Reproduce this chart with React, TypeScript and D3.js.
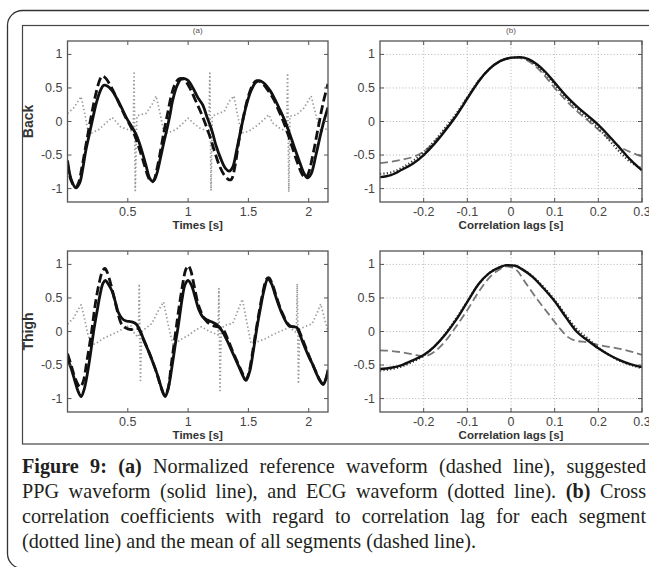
import React, { useMemo } from "react";
import * as d3 from "d3";

// ---------- axis ticks / labels ----------
const TIME_TICKS = [0.5, 1, 1.5, 2];
const LAG_TICKS = [-0.2, -0.1, 0, 0.1, 0.2, 0.3];
const Y_TICKS = [-1, -0.5, 0, 0.5, 1];
const ROW_LABELS = ["Back", "Thigh"];
const PANEL_TITLES = ["(a)", "(b)"];
const X_LABELS = ["Times [s]", "Correlation lags [s]"];

// ---------- (a) Back: [time s, amplitude] ----------
const backPpg: [number, number][] = [
  [0, -0.58], [0.03, -0.86], [0.07, -0.99], [0.1, -0.92], [0.127, -0.7], [0.15, -0.45], [0.18, -0.2],
  [0.21, 0.05], [0.24, 0.28], [0.27, 0.45], [0.3, 0.54], [0.33, 0.53], [0.37, 0.46], [0.41, 0.34],
  [0.45, 0.2], [0.49, 0.05], [0.53, -0.07], [0.57, -0.2], [0.61, -0.4], [0.65, -0.65], [0.68, -0.84],
  [0.7, -0.89], [0.72, -0.87], [0.745, -0.75], [0.77, -0.55], [0.8, -0.3], [0.82, -0.15], [0.85, 0.1],
  [0.87, 0.3], [0.91, 0.54], [0.94, 0.63], [0.97, 0.64], [1.0, 0.61], [1.04, 0.5], [1.08, 0.36],
  [1.12, 0.25], [1.16, 0.05], [1.2, -0.15], [1.23, -0.35], [1.27, -0.55], [1.31, -0.7], [1.34, -0.74],
  [1.37, -0.68], [1.4, -0.45], [1.44, -0.1], [1.48, 0.22], [1.52, 0.45], [1.56, 0.58], [1.59, 0.61],
  [1.63, 0.57], [1.68, 0.46], [1.72, 0.33], [1.76, 0.18], [1.8, 0.02], [1.84, -0.17], [1.88, -0.38],
  [1.92, -0.58], [1.96, -0.77], [1.99, -0.84], [2.02, -0.78], [2.06, -0.5], [2.1, -0.18], [2.13, 0.03],
  [2.16, 0.21],
];
const backRef: [number, number][] = [
  [0, -0.62], [0.03, -0.88], [0.065, -0.98], [0.09, -0.92], [0.12, -0.68], [0.15, -0.38], [0.18, -0.08],
  [0.21, 0.2], [0.24, 0.45], [0.27, 0.63], [0.29, 0.68], [0.32, 0.64], [0.36, 0.52], [0.4, 0.38],
  [0.44, 0.22], [0.48, 0.07], [0.52, -0.06], [0.56, -0.22], [0.6, -0.43], [0.64, -0.66], [0.67, -0.83],
  [0.695, -0.9], [0.715, -0.88], [0.74, -0.72], [0.77, -0.45], [0.8, -0.15], [0.83, 0.12], [0.86, 0.38],
  [0.89, 0.55], [0.92, 0.63], [0.95, 0.64], [0.98, 0.6], [1.02, 0.48], [1.06, 0.32], [1.1, 0.16],
  [1.14, -0.02], [1.18, -0.22], [1.22, -0.45], [1.26, -0.66], [1.3, -0.8], [1.34, -0.87], [1.36, -0.86],
  [1.39, -0.65], [1.42, -0.3], [1.46, 0.08], [1.5, 0.38], [1.54, 0.56], [1.57, 0.61], [1.61, 0.58],
  [1.66, 0.47], [1.71, 0.33], [1.75, 0.17], [1.79, 0.0], [1.83, -0.2], [1.87, -0.42], [1.91, -0.63],
  [1.95, -0.8], [1.975, -0.84], [2.0, -0.76], [2.04, -0.45], [2.08, -0.08], [2.12, 0.28], [2.16, 0.56],
];
const backEcg: [number, number][] = [
  [0, 0.12], [0.05, 0.2], [0.113, 0.37], [0.14, 0.15], [0.17, -0.15], [0.2, -0.17], [0.26, -0.12],
  [0.32, -0.02], [0.37, 0.06], [0.4, 0.0], [0.44, -0.08], [0.5, -0.12], [0.545, -0.15], [0.552, 0.72],
  [0.562, -1.03], [0.575, 0.08], [0.6, 0.1], [0.65, 0.12], [0.7, 0.25], [0.735, 0.38], [0.77, 0.1],
  [0.8, -0.17], [0.83, -0.17], [0.9, -0.12], [0.96, -0.02], [1.0, 0.05], [1.04, -0.02], [1.1, -0.1],
  [1.172, -0.15], [1.18, 0.72], [1.19, -1.03], [1.2, 0.08], [1.25, 0.12], [1.3, 0.15], [1.34, 0.3],
  [1.38, 0.38], [1.41, 0.1], [1.44, -0.17], [1.5, -0.15], [1.58, -0.05], [1.64, 0.05], [1.67, 0.1],
  [1.7, -0.02], [1.76, -0.1], [1.817, -0.15], [1.825, 0.72], [1.835, -1.05], [1.845, 0.08], [1.9, 0.1],
  [1.96, 0.2], [2.02, 0.38], [2.06, 0.1], [2.1, -0.15], [2.16, -0.1],
];

// ---------- (a) Thigh ----------
const thighPpg: [number, number][] = [
  [0, -0.4], [0.03, -0.55], [0.06, -0.73], [0.09, -0.9], [0.113, -0.97], [0.14, -0.85], [0.18, -0.46],
  [0.22, 0.04], [0.25, 0.35], [0.27, 0.55], [0.295, 0.72], [0.315, 0.76], [0.34, 0.7], [0.37, 0.6],
  [0.4, 0.42], [0.42, 0.29], [0.45, 0.2], [0.48, 0.16], [0.51, 0.15], [0.54, 0.14], [0.57, 0.11],
  [0.6, 0.02], [0.64, -0.16], [0.68, -0.33], [0.71, -0.47], [0.75, -0.67], [0.78, -0.85], [0.81, -0.97],
  [0.835, -0.85], [0.87, -0.48], [0.9, -0.12], [0.92, 0.1], [0.95, 0.48], [0.975, 0.7], [1.0, 0.76],
  [1.03, 0.68], [1.06, 0.5], [1.09, 0.32], [1.12, 0.22], [1.16, 0.17], [1.2, 0.14], [1.24, 0.1],
  [1.27, 0.04], [1.3, -0.05], [1.34, -0.2], [1.38, -0.36], [1.42, -0.52], [1.46, -0.68], [1.48, -0.73],
  [1.51, -0.6], [1.54, -0.3], [1.57, 0.05], [1.6, 0.35], [1.63, 0.62], [1.66, 0.78], [1.69, 0.72],
  [1.72, 0.56], [1.75, 0.4], [1.78, 0.26], [1.81, 0.15], [1.84, 0.08], [1.87, 0.07], [1.9, 0.06],
  [1.93, -0.06], [1.96, -0.2], [2.0, -0.37], [2.03, -0.48], [2.07, -0.65], [2.1, -0.75], [2.12, -0.79],
  [2.14, -0.72], [2.16, -0.57],
];
const thighRef: [number, number][] = [
  [0, -0.33], [0.03, -0.5], [0.06, -0.68], [0.09, -0.8], [0.105, -0.83], [0.13, -0.75], [0.16, -0.45],
  [0.2, 0.0], [0.23, 0.4], [0.26, 0.7], [0.29, 0.9], [0.31, 0.94], [0.33, 0.88], [0.36, 0.7],
  [0.39, 0.48], [0.42, 0.26], [0.445, 0.12], [0.47, 0.07], [0.5, 0.04], [0.53, 0.03], [0.56, 0.05],
  [0.59, 0.04], [0.62, -0.08], [0.66, -0.24], [0.7, -0.42], [0.74, -0.62], [0.77, -0.8], [0.805, -0.95],
  [0.83, -0.88], [0.86, -0.5], [0.89, -0.1], [0.92, 0.3], [0.95, 0.65], [0.98, 0.92], [1.0, 0.98],
  [1.02, 0.92], [1.05, 0.68], [1.08, 0.43], [1.11, 0.28], [1.14, 0.18], [1.18, 0.11], [1.22, 0.08],
  [1.26, 0.06], [1.29, 0.03], [1.33, -0.12], [1.37, -0.3], [1.41, -0.46], [1.45, -0.62], [1.475, -0.72],
  [1.5, -0.64], [1.53, -0.36], [1.56, -0.02], [1.59, 0.3], [1.62, 0.58], [1.65, 0.78], [1.67, 0.8],
  [1.7, 0.7], [1.73, 0.53], [1.76, 0.37], [1.79, 0.24], [1.82, 0.13], [1.85, 0.08], [1.88, 0.07],
  [1.91, 0.04], [1.94, -0.08], [1.98, -0.26], [2.02, -0.44], [2.06, -0.6], [2.09, -0.72], [2.115, -0.78],
  [2.14, -0.72], [2.16, -0.6],
];
const thighEcg: [number, number][] = [
  [0, 0.11], [0.05, 0.2], [0.09, 0.33], [0.113, 0.4], [0.14, 0.2], [0.17, -0.05], [0.2, -0.21],
  [0.25, -0.16], [0.3, -0.1], [0.36, -0.05], [0.42, 0.0], [0.47, 0.05], [0.51, 0.09], [0.53, 0.08],
  [0.56, -0.05], [0.588, -0.08], [0.595, 0.71], [0.605, -0.73], [0.615, 0.0], [0.65, 0.05], [0.7, 0.12],
  [0.75, 0.3], [0.796, 0.44], [0.83, 0.15], [0.86, -0.1], [0.88, -0.2], [0.94, -0.12], [1.0, -0.06],
  [1.06, 0.02], [1.11, 0.07], [1.18, 0.0], [1.248, -0.05], [1.255, 0.64], [1.265, -0.88], [1.275, 0.05],
  [1.32, 0.1], [1.37, 0.12], [1.41, 0.3], [1.45, 0.48], [1.48, 0.2], [1.52, -0.16], [1.58, -0.15],
  [1.65, -0.1], [1.7, -0.05], [1.76, 0.0], [1.84, 0.06], [1.898, -0.02], [1.905, 0.71], [1.915, -0.78],
  [1.925, 0.04], [1.98, 0.08], [2.03, 0.12], [2.07, 0.28], [2.1, 0.41], [2.13, 0.2], [2.16, 0.0],
];

// ---------- (b) Back: [lag s, coefficient] ----------
const backCorrPpg: [number, number][] = [
  [-0.3, -0.83], [-0.275, -0.8], [-0.25, -0.72], [-0.225, -0.63], [-0.2, -0.5], [-0.175, -0.33],
  [-0.15, -0.13], [-0.125, 0.09], [-0.1, 0.34], [-0.075, 0.59], [-0.05, 0.78], [-0.025, 0.9],
  [0, 0.95], [0.02, 0.96], [0.04, 0.93], [0.06, 0.85], [0.08, 0.73], [0.1, 0.58], [0.125, 0.39],
  [0.15, 0.23], [0.175, 0.09], [0.2, -0.05], [0.225, -0.22], [0.25, -0.4], [0.275, -0.58], [0.3, -0.73],
];
const backCorrSeg: [number, number][] = [
  [-0.3, -0.78], [-0.275, -0.76], [-0.25, -0.69], [-0.225, -0.59], [-0.2, -0.46], [-0.175, -0.29],
  [-0.15, -0.09], [-0.125, 0.12], [-0.1, 0.36], [-0.075, 0.6], [-0.05, 0.78], [-0.025, 0.9],
  [0, 0.95], [0.02, 0.955], [0.04, 0.92], [0.06, 0.83], [0.08, 0.7], [0.1, 0.55], [0.125, 0.36],
  [0.15, 0.2], [0.175, 0.05], [0.2, -0.1], [0.225, -0.28], [0.25, -0.46], [0.275, -0.61], [0.3, -0.7],
];
const backCorrMean: [number, number][] = [
  [-0.3, -0.62], [-0.275, -0.6], [-0.25, -0.57], [-0.225, -0.53], [-0.2, -0.45], [-0.175, -0.3],
  [-0.15, -0.11], [-0.125, 0.1], [-0.1, 0.36], [-0.075, 0.6], [-0.05, 0.78], [-0.025, 0.9],
  [0, 0.95], [0.015, 0.95], [0.04, 0.9], [0.06, 0.8], [0.08, 0.66], [0.1, 0.5], [0.125, 0.32],
  [0.15, 0.16], [0.175, 0.02], [0.2, -0.12], [0.225, -0.26], [0.25, -0.38], [0.275, -0.46], [0.3, -0.52],
];

// ---------- (b) Thigh ----------
const thighCorrPpg: [number, number][] = [
  [-0.3, -0.56], [-0.275, -0.54], [-0.25, -0.5], [-0.225, -0.43], [-0.2, -0.35], [-0.175, -0.22],
  [-0.15, -0.04], [-0.125, 0.18], [-0.1, 0.44], [-0.075, 0.7], [-0.05, 0.87], [-0.025, 0.96],
  [-0.01, 0.99], [0.01, 0.98], [0.025, 0.93], [0.05, 0.81], [0.075, 0.64], [0.1, 0.45], [0.125, 0.22],
  [0.15, 0.0], [0.175, -0.13], [0.2, -0.25], [0.225, -0.35], [0.25, -0.43], [0.275, -0.49], [0.3, -0.53],
];
const thighCorrSeg: [number, number][] = [
  [-0.3, -0.58], [-0.275, -0.56], [-0.25, -0.52], [-0.225, -0.45], [-0.2, -0.36], [-0.175, -0.22],
  [-0.15, -0.03], [-0.125, 0.2], [-0.1, 0.45], [-0.075, 0.7], [-0.05, 0.87], [-0.025, 0.96],
  [-0.01, 0.985], [0.01, 0.975], [0.025, 0.93], [0.05, 0.82], [0.075, 0.66], [0.1, 0.47], [0.125, 0.25],
  [0.15, 0.04], [0.175, -0.1], [0.2, -0.24], [0.225, -0.35], [0.25, -0.44], [0.275, -0.5], [0.3, -0.55],
];
const thighCorrMean: [number, number][] = [
  [-0.3, -0.28], [-0.275, -0.29], [-0.25, -0.31], [-0.225, -0.34], [-0.2, -0.37], [-0.175, -0.3],
  [-0.15, -0.14], [-0.125, 0.08], [-0.1, 0.32], [-0.075, 0.58], [-0.05, 0.8], [-0.025, 0.93],
  [-0.01, 0.97], [0.01, 0.93], [0.035, 0.71], [0.06, 0.48], [0.085, 0.27], [0.11, 0.06], [0.13, -0.08],
  [0.15, -0.14], [0.175, -0.16], [0.2, -0.2], [0.225, -0.23], [0.25, -0.26], [0.275, -0.3], [0.3, -0.35],
];

// ---------- caption ----------
const CAPTION_LINES: [string, boolean][][] = [
  [["Figure 9: (a)", true], ["Normalized reference waveform (dashed line), suggested", false]],
  [["PPG waveform (solid line), and ECG waveform (dotted line).", false], ["(b)", true], ["Cross", false]],
  [["correlation coefficients with regard to correlation lag for each segment", false]],
  [["(dotted line) and the mean of all segments (dashed line).", false]],
];

const AXFONT = "'Liberation Sans', Arial, sans-serif";
const CAPFONT = "'Liberation Serif', 'Times New Roman', serif";
const CAP_SIZE = 20.2;

type Series = { data: [number, number][]; stroke: string; width: number; dash?: string; curve: d3.CurveFactory };

function Panel(props: {
  x0: number; x1: number; y0: number; y1: number; xDomain: [number, number]; xTicks: number[];
  grid: boolean; series: Series[]; title?: string; xLabel: string; yLabel?: string; id: string;
}) {
  const { x0, x1, y0, y1, xDomain, xTicks, grid, series, title, xLabel, yLabel, id } = props;
  const xs = d3.scaleLinear().domain(xDomain).range([x0, x1]);
  const ys = d3.scaleLinear().domain([-1.2, 1.2]).range([y1, y0]);
  const tl = 4;
  const axisColor = "#555";
  return (
    <g>
      <defs>
        <clipPath id={id}>
          <rect x={x0} y={y0} width={x1 - x0} height={y1 - y0} />
        </clipPath>
      </defs>
      {grid && (
        <g stroke="#aaa" strokeWidth={0.9} strokeDasharray="1,2.2">
          {xTicks.map((t) => (
            <line key={"gx" + t} x1={xs(t)} x2={xs(t)} y1={y0} y2={y1} />
          ))}
          {Y_TICKS.map((t) => (
            <line key={"gy" + t} x1={x0} x2={x1} y1={ys(t)} y2={ys(t)} />
          ))}
        </g>
      )}
      <g clipPath={`url(#${id})`}>
        {series.map((s, i) => {
          const line = d3
            .line<[number, number]>()
            .x((d) => xs(d[0]))
            .y((d) => ys(d[1]))
            .curve(s.curve);
          return (
            <path
              key={i}
              d={line(s.data) || ""}
              fill="none"
              stroke={s.stroke}
              strokeWidth={s.width}
              strokeDasharray={s.dash}
              strokeLinejoin="round"
            />
          );
        })}
      </g>
      <rect x={x0} y={y0} width={x1 - x0} height={y1 - y0} fill="none" stroke={axisColor} strokeWidth={1.3} />
      <g stroke={axisColor} strokeWidth={1}>
        {xTicks.map((t) => (
          <g key={"tx" + t}>
            <line x1={xs(t)} x2={xs(t)} y1={y1} y2={y1 - tl} />
            <line x1={xs(t)} x2={xs(t)} y1={y0} y2={y0 + tl} />
          </g>
        ))}
        {Y_TICKS.map((t) => (
          <g key={"ty" + t}>
            <line x1={x0} x2={x0 + tl} y1={ys(t)} y2={ys(t)} />
            <line x1={x1} x2={x1 - tl} y1={ys(t)} y2={ys(t)} />
          </g>
        ))}
      </g>
      <g fontFamily={AXFONT} fontSize={12.5} fill="#444">
        {xTicks.map((t) => (
          <text key={"lx" + t} x={xs(t)} y={y1 + 14} textAnchor="middle">
            {String(t)}
          </text>
        ))}
        {Y_TICKS.map((t) => (
          <text key={"ly" + t} x={x0 - 5} y={ys(t)} textAnchor="end" dominantBaseline="central">
            {String(t)}
          </text>
        ))}
      </g>
      {title && (
        <text x={(x0 + x1) / 2} y={y0 - 8} textAnchor="middle" fontFamily={AXFONT} fontSize={8} fill="#555">
          {title}
        </text>
      )}
      <text x={(x0 + x1) / 2} y={y1 + 27} textAnchor="middle" fontFamily={AXFONT} fontSize={11.5} fontWeight="bold" fill="#333">
        {xLabel}
      </text>
      {yLabel && (
        <text
          transform={`translate(33,${(y0 + y1) / 2}) rotate(-90)`}
          textAnchor="middle"
          fontFamily={AXFONT}
          fontSize={14}
          fontWeight="bold"
          fill="#333"
        >
          {yLabel}
        </text>
      )}
    </g>
  );
}

function Caption() {
  const words = useMemo(() => {
    const ctx = document.createElement("canvas").getContext("2d")!;
    const measure = (t: string, b: boolean) => {
      ctx.font = `${b ? "bold " : ""}${CAP_SIZE}px ${CAPFONT}`;
      return ctx.measureText(t).width;
    };
    const left = 22;
    const right = 646;
    const out: { text: string; bold: boolean; x: number; line: number }[] = [];
    CAPTION_LINES.forEach((segs, li) => {
      const ws: { text: string; bold: boolean; w: number }[] = [];
      segs.forEach(([txt, b]) => {
        txt.split(" ").filter((s) => s.length).forEach((w) => ws.push({ text: w, bold: b, w: measure(w, b) }));
      });
      const total = ws.reduce((a, w) => a + w.w, 0);
      const justify = li < CAPTION_LINES.length - 1;
      const gap = justify ? (right - left - total) / (ws.length - 1) : measure(" ", false);
      let x = left;
      ws.forEach((w) => {
        out.push({ text: w.text, bold: w.bold, x, line: li });
        x += w.w + gap;
      });
    });
    return out;
  }, []);
  return (
    <g fontFamily={CAPFONT} fontSize={CAP_SIZE} fill="#231f20">
      {words.map((w, i) => (
        <text key={i} x={w.x} y={473 + w.line * 25} fontWeight={w.bold ? "bold" : "normal"}>
          {w.text}
        </text>
      ))}
    </g>
  );
}

export default function App() {
  const curveSmooth = d3.curveCatmullRom.alpha(0.5);
  const rows = [
    { y0: 41, y1: 202, ppg: backPpg, ref: backRef, ecg: backEcg, cp: backCorrPpg, cs: backCorrSeg, cm: backCorrMean },
    { y0: 251, y1: 412, ppg: thighPpg, ref: thighRef, ecg: thighEcg, cp: thighCorrPpg, cs: thighCorrSeg, cm: thighCorrMean },
  ];
  return (
    <svg
      width={649}
      height={567}
      style={{ position: "absolute", left: 0, top: 0, display: "block", background: "#fff" }}
    >
      <rect x={0} y={0} width={649} height={567} fill="#fff" />
      <rect x={7.5} y={10.5} width={720} height={558} rx={15} ry={15} fill="none" stroke="#333" strokeWidth={1.3} />
      <rect x={22.5} y={25.5} width={720} height={418.5} fill="none" stroke="#444" strokeWidth={1.2} />
      {rows.map((r, i) => (
        <g key={i}>
          <Panel
            id={"clipA" + i}
            x0={67.5}
            x1={328}
            y0={r.y0}
            y1={r.y1}
            xDomain={[0, 2.16]}
            xTicks={TIME_TICKS}
            grid={false}
            title={i === 0 ? PANEL_TITLES[0] : undefined}
            xLabel={X_LABELS[0]}
            yLabel={ROW_LABELS[i]}
            series={[
              { data: r.ecg, stroke: "#9a9a9a", width: 1.7, dash: "1.4,2.4", curve: d3.curveLinear },
              { data: r.ppg, stroke: "#111", width: 2.8, curve: curveSmooth },
              { data: r.ref, stroke: "#111", width: 2.8, dash: "9,4", curve: curveSmooth },
            ]}
          />
          <Panel
            id={"clipB" + i}
            x0={380}
            x1={642}
            y0={r.y0}
            y1={r.y1}
            xDomain={[-0.3, 0.3]}
            xTicks={LAG_TICKS}
            grid={true}
            title={i === 0 ? PANEL_TITLES[1] : undefined}
            xLabel={X_LABELS[1]}
            series={[
              { data: r.cm, stroke: "#777", width: 1.8, dash: "8,4", curve: d3.curveMonotoneX },
              { data: r.cs, stroke: "#333", width: 2.2, dash: "1.2,2.2", curve: d3.curveMonotoneX },
              { data: r.cp, stroke: "#111", width: 2.4, curve: d3.curveMonotoneX },
            ]}
          />
        </g>
      ))}
      <Caption />
    </svg>
  );
}
